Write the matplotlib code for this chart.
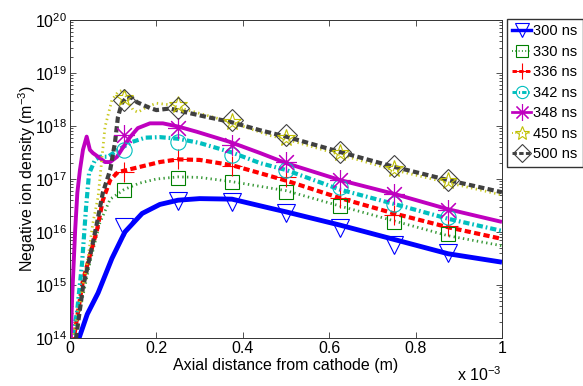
import numpy as np
import matplotlib
matplotlib.use("Agg")
import matplotlib.pyplot as plt
from matplotlib.ticker import LogLocator, NullFormatter

plt.rcParams['font.family'] = ['Liberation Sans', 'DejaVu Sans']
plt.rcParams['mathtext.default'] = 'regular'

# x in units of 1e-3 m, y as log10 of density (m^-3)
MARK_X = [0.125, 0.25, 0.375, 0.5, 0.625, 0.75, 0.875]

x300 = [0.018, 0.021, 0.04, 0.065, 0.097, 0.127, 0.167, 0.208, 0.25, 0.3, 0.375, 0.463, 0.5, 0.625, 0.75, 0.875, 1.0]
y300 = [13.9, 14.0, 14.45, 14.85, 15.5, 16.0, 16.35, 16.52, 16.6, 16.63, 16.62, 16.45, 16.38, 16.13, 15.86, 15.59, 15.43]
m300 = [16.09, 16.58, 16.57, 16.36, 16.08, 15.75, 15.6]

x330 = [0.008, 0.012, 0.023, 0.046, 0.069, 0.093, 0.125, 0.16, 0.2, 0.25, 0.3, 0.375, 0.463, 0.5, 0.625, 0.75, 0.875, 1.0]
y330 = [13.8, 14.09, 14.53, 15.42, 16.17, 16.62, 16.8, 16.92, 17.0, 17.04, 17.03, 16.95, 16.83, 16.78, 16.49, 16.21, 15.93, 15.74]
m330 = [16.79, 17.02, 16.94, 16.75, 16.49, 16.19, 15.96]

x336 = [0.007, 0.009, 0.03, 0.0625, 0.076, 0.093, 0.111, 0.132, 0.208, 0.25, 0.3, 0.375, 0.44, 0.5, 0.625, 0.75, 0.875, 1.0]
y336 = [13.9, 14.0, 15.09, 16.04, 16.6, 16.98, 17.13, 17.17, 17.32, 17.37, 17.36, 17.26, 17.11, 16.97, 16.64, 16.35, 16.09, 15.87]
m336 = [17.13, 17.38, 17.25, 17.04, 16.64, 16.33, 16.12]

x342 = [0.003, 0.005, 0.016, 0.028, 0.037, 0.044, 0.058, 0.069, 0.088, 0.111, 0.144, 0.174, 0.208, 0.25, 0.3, 0.375, 0.44, 0.5, 0.625, 0.75, 0.875, 1.0]
y342 = [13.8, 14.0, 14.47, 15.42, 16.45, 17.1, 17.36, 17.42, 17.42, 17.55, 17.7, 17.78, 17.79, 17.76, 17.68, 17.5, 17.3, 17.17, 16.8, 16.53, 16.25, 16.02]
m342 = [17.55, 17.7, 17.45, 17.17, 16.85, 16.53, 16.28]

x348 = [0.001, 0.002, 0.005, 0.012, 0.017, 0.023, 0.03, 0.0386, 0.046, 0.053, 0.065, 0.081, 0.093, 0.109, 0.123, 0.139, 0.157, 0.185, 0.215, 0.25, 0.294, 0.37, 0.44, 0.5, 0.625, 0.75, 0.875, 1.0]
y348 = [13.7, 14.0, 14.77, 16.04, 16.74, 17.17, 17.55, 17.8, 17.55, 17.49, 17.42, 17.32, 17.32, 17.42, 17.6, 17.79, 17.96, 18.05, 18.05, 17.99, 17.89, 17.7, 17.49, 17.3, 16.98, 16.72, 16.43, 16.19]
m348 = [17.83, 17.96, 17.64, 17.32, 16.98, 16.72, 16.42]

x450 = [0.005, 0.007, 0.028, 0.042, 0.053, 0.065, 0.081, 0.097, 0.111, 0.123, 0.134, 0.146, 0.157, 0.178, 0.2, 0.231, 0.255, 0.37, 0.463, 0.5, 0.625, 0.75, 0.875, 1.0]
y450 = [13.8, 14.0, 14.9, 15.53, 16.17, 16.66, 17.98, 18.49, 18.64, 18.68, 18.49, 18.3, 18.26, 18.36, 18.43, 18.4, 18.34, 18.08, 17.82, 17.75, 17.46, 17.17, 16.93, 16.7]
m450 = [18.53, 18.4, 18.08, 17.77, 17.49, 17.19, 16.96]

x500 = [0.012, 0.014, 0.03, 0.046, 0.0625, 0.076, 0.093, 0.104, 0.111, 0.12, 0.132, 0.144, 0.155, 0.185, 0.2, 0.231, 0.262, 0.317, 0.37, 0.44, 0.5, 0.625, 0.75, 0.875, 1.0]
y500 = [13.8, 14.0, 14.96, 15.53, 16.17, 16.74, 17.17, 17.68, 18.17, 18.43, 18.55, 18.53, 18.45, 18.34, 18.3, 18.33, 18.27, 18.17, 18.08, 17.92, 17.8, 17.51, 17.23, 16.98, 16.75]
m500 = [18.49, 18.34, 18.11, 17.83, 17.51, 17.25, 16.98]

labels = ['300 ns', '330 ns', '336 ns', '342 ns', '348 ns', '450 ns', '500 ns']
XTICKS = [0, 0.2, 0.4, 0.6, 0.8, 1.0]
XTICK_LABELS = ['0', '0.2', '0.4', '0.6', '0.8', '1']

series = [(x300, y300, m300), (x330, y330, m330), (x336, y336, m336), (x342, y342, m342),
          (x348, y348, m348), (x450, y450, m450), (x500, y500, m500)]

# line color, marker color, line width, dashes, marker, marker size
styles = [
    ('#0000ff', '#0000ff', 3.5, None, 'v', 13),
    ('#3a9a3a', '#008000', 2.0, (0.5, 1.2), 's', 10),
    ('#ff0000', '#ff0000', 3.0, (1.5, 0.8), '+', 14),
    ('#00bfbf', '#00bfbf', 3.0, (1.5, 0.7, 0.4, 0.7), 'o', 11),
    ('#bf00bf', '#bf00bf', 2.8, None, (8, 2, 0), 15),
    ('#c8c820', '#bfbf00', 2.0, (0.5, 1.2), '*', 13),
    ('#404040', '#404040', 3.0, (1.5, 0.8), 'D', 11),
]

fig = plt.figure(figsize=(5.83, 3.86), dpi=100)
ax = fig.add_axes([70 / 583, 48 / 386, 432 / 583, 318 / 386])

handles = []
for (xs, ys, ms), (c, mc, lw, dash, mk, msz) in zip(series, styles):
    ls = '-' if dash is None else (0, dash)
    ax.plot(xs, 10.0 ** np.array(ys), color=c, lw=lw, linestyle=ls, solid_capstyle='butt')
    ax.plot(MARK_X, 10.0 ** np.array(ms), linestyle='none', marker=mk, ms=msz,
            mfc='none', mec=mc, mew=0.8, zorder=4)
    h, = ax.plot([], [], color=c, lw=lw * 0.7, linestyle=ls, marker=mk, ms=msz * 0.8,
                 mfc='none', mec=mc, mew=0.8)
    handles.append(h)

ax.set_yscale('log')
ax.set_xlim(0, 1)
ax.set_ylim(1e14, 1e20)
ax.set_xticks(XTICKS)
ax.set_xticklabels(XTICK_LABELS)
ax.yaxis.set_major_locator(LogLocator(base=10, numticks=10))
ax.yaxis.set_minor_locator(LogLocator(base=10, subs=np.arange(2, 10), numticks=20))
ax.yaxis.set_minor_formatter(NullFormatter())
ax.tick_params(which='both', direction='in', top=True, right=True, labelsize=11.5, width=0.6, color='#333333')
ax.tick_params(which='major', length=4)
ax.tick_params(which='minor', length=2)
ax.tick_params(axis='x', pad=2)
ax.tick_params(axis='y', pad=2)
for s in ax.spines.values():
    s.set_linewidth(0.7)
    s.set_color('#333333')

ax.set_xlabel('Axial distance from cathode (m)', fontsize=11.5)
ax.set_ylabel('Negative ion density (m$^{-3}$)', fontsize=11.5)
ax.xaxis.set_label_coords(0.5, -0.062)
ax.yaxis.set_label_coords(-0.074, 0.5)
fig.text(502 / 583, 11 / 386, 'x 10$^{-3}$', ha='right', va='center', fontsize=11.5)

ax.legend(handles, labels, loc='upper left', bbox_to_anchor=(507 / 583, 367 / 386),
          bbox_transform=fig.transFigure, frameon=True, fancybox=False, edgecolor='#333333',
          framealpha=1, borderaxespad=0, handlelength=1.3, handletextpad=0.15,
          labelspacing=0.45, borderpad=0.35, fontsize=10.5)

fig.savefig('out.png', dpi=100)
